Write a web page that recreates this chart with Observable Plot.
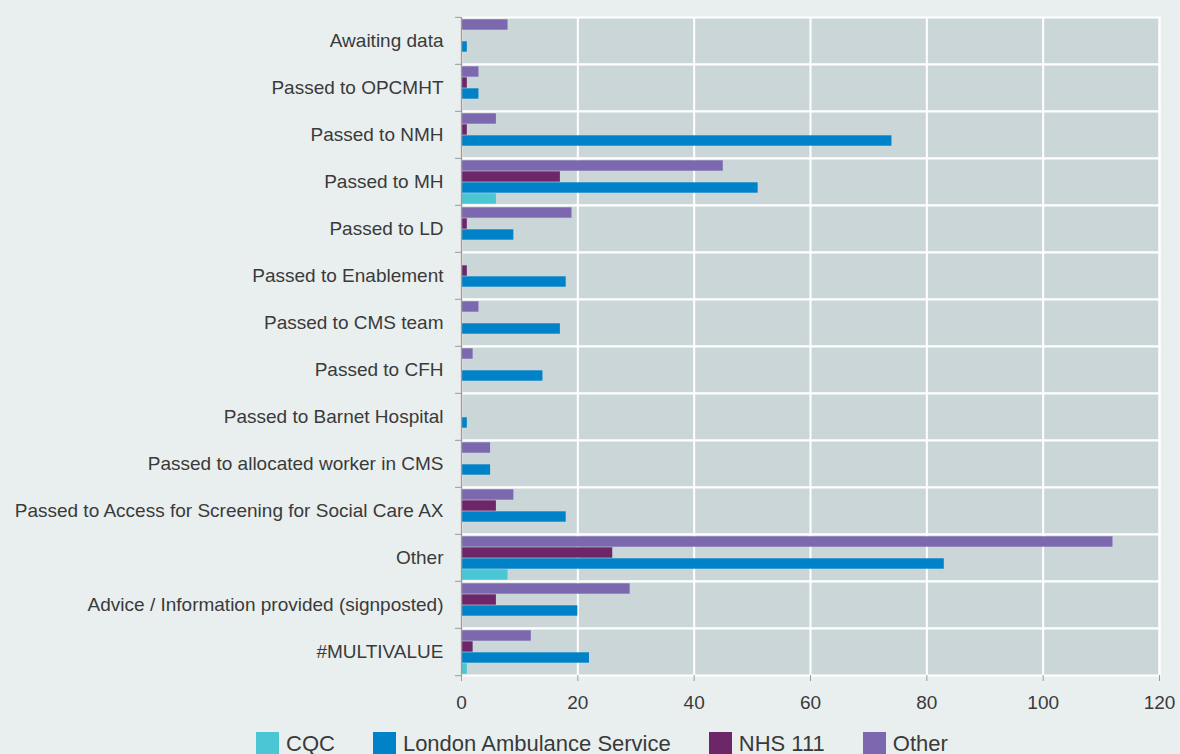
<!DOCTYPE html>
<html>
<head>
<meta charset="utf-8">
<script src="https://cdn.jsdelivr.net/npm/d3@7"></script>
<script src="https://cdn.jsdelivr.net/npm/@observablehq/plot@0.6"></script>
<style>
  html, body { margin: 0; padding: 0; background: #e9efef; }
  #wrap { width: 1180px; height: 754px; overflow: hidden; background: #e9efef; font-family: "Liberation Sans", Arial, sans-serif; color: #3a3a3a; }
  #legend { display: flex; justify-content: flex-start; align-items: center; margin-left: 256px; margin-top: 10px; font-size: 22px; line-height: 22px; }
  .item { display: flex; align-items: center; margin-right: 38px; }
  .sw { width: 23px; height: 23px; margin-right: 7px; }
</style>
</head>
<body>
<div id="wrap">
  <div id="chart"></div>
  <div id="legend"></div>
</div>
<script>
const categories = [
  "Awaiting data",
  "Passed to OPCMHT",
  "Passed to NMH",
  "Passed to MH",
  "Passed to LD",
  "Passed to Enablement",
  "Passed to CMS team",
  "Passed to CFH",
  "Passed to Barnet Hospital",
  "Passed to allocated worker in CMS",
  "Passed to Access for Screening for Social Care AX",
  "Other",
  "Advice / Information provided (signposted)",
  "#MULTIVALUE"
];
const seriesNames = ["CQC", "London Ambulance Service", "NHS 111", "Other"];
const seriesColors = ["#4bc6d4", "#0082c8", "#6d2668", "#7b68ae"];
const cqc     = [0, 0,  0,  6,  0,  0,  0,  0, 0, 0,  0,   8,  0,  1];
const las     = [1, 3, 74, 51,  9, 18, 17, 14, 1, 5, 18,  83, 20, 22];
const nhs111  = [0, 1,  1, 17,  1,  1,  0,  0, 0, 0,  6,  26,  6,  2];
const other   = [8, 3,  6, 45, 19,  0,  3,  2, 0, 5,  9, 112, 29, 12];
const xTicks = [0, 20, 40, 60, 80, 100, 120];

const seriesValues = [cqc, las, nhs111, other];
const rows = categories.flatMap((c, i) =>
  seriesNames.map((s, j) => ({category: c, series: s, value: seriesValues[j][i]}))
).filter(d => d.value > 0);

const H = 722, MT = 14, MB = 45;
const bw = (H - MT - MB) / categories.length;

const chart = Plot.plot({
  width: 1180,
  height: H,
  marginLeft: 461,
  marginRight: 21,
  marginTop: MT,
  marginBottom: MB,
  style: {background: "transparent", fontFamily: "Liberation Sans, Arial, sans-serif", fontSize: "19px", color: "#3a3a3a", overflow: "visible"},
  x: {domain: [0, 120]},
  y: {domain: ["Other", "NHS 111", "London Ambulance Service", "CQC"], padding: 0.02, axis: null},
  fy: {domain: categories, padding: 0},
  color: {domain: seriesNames, range: seriesColors},
  marks: [
    Plot.frame({fill: "#cbd6d9", stroke: "#ffffff", strokeWidth: 2}),
    Plot.gridX({ticks: xTicks, stroke: "#ffffff", strokeOpacity: 1, strokeWidth: 2}),
    Plot.barX(rows, {x: "value", y: "series", fy: "category", fill: "series", insetTop: 0.3, insetBottom: 0.3}),
    Plot.ruleX([0], {stroke: "#9a9a9a", strokeWidth: 1.5}),
    Plot.axisX({ticks: xTicks, tickSize: 6, tickPadding: 14, line: true, stroke: "#9a9a9a", fill: "#3a3a3a", fontSize: 19, label: null}),
    Plot.axisFy({anchor: "left", tickSize: 6, text: null, dy: -bw / 2, stroke: "#9a9a9a", label: null}),
    Plot.axisFy({anchor: "left", ticks: [categories[categories.length - 1]], tickSize: 6, text: null, dy: bw / 2, stroke: "#9a9a9a", label: null}),
    Plot.axisFy({anchor: "left", tickSize: 0, tickPadding: 18, fontSize: 19, label: null, fill: "#3a3a3a"})
  ]
});
document.getElementById("chart").appendChild(chart);

const legend = document.getElementById("legend");
seriesNames.forEach((s, i) => {
  const item = document.createElement("div");
  item.className = "item";
  const sw = document.createElement("div");
  sw.className = "sw";
  sw.style.background = seriesColors[i];
  const t = document.createElement("span");
  t.textContent = s;
  item.appendChild(sw);
  item.appendChild(t);
  legend.appendChild(item);
});
</script>
</body>
</html>
